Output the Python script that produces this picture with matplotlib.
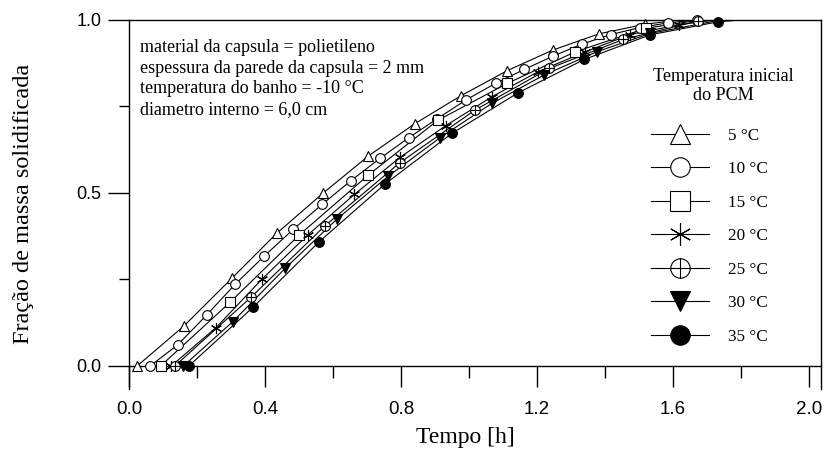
import matplotlib.pyplot as plt
from matplotlib.path import Path
from matplotlib.lines import Line2D
from matplotlib.ticker import MultipleLocator, FormatStrFormatter

# values (tempo [h], fracao solidificada)
labels = ['5 °C', '10 °C', '15 °C', '20 °C', '25 °C', '30 °C', '35 °C']

t_5 = [0.024, 0.162, 0.302, 0.434, 0.570, 0.704, 0.840, 0.976, 1.111, 1.246, 1.382, 1.518]
f_5 = [0.0, 0.116, 0.253, 0.383, 0.499, 0.607, 0.700, 0.781, 0.853, 0.913, 0.960, 0.988]

t_10 = [0.062, 0.143, 0.228, 0.312, 0.397, 0.483, 0.569, 0.653, 0.738, 0.823, 0.907,
        0.991, 1.078, 1.162, 1.248, 1.331, 1.417, 1.502, 1.586, 1.670]
f_10 = [0.0, 0.061, 0.147, 0.236, 0.317, 0.395, 0.468, 0.536, 0.600, 0.660, 0.715,
        0.769, 0.817, 0.857, 0.896, 0.930, 0.958, 0.978, 0.992, 1.0]

t_15 = [0.093, 0.297, 0.501, 0.704, 0.908, 1.113, 1.312, 1.520]
f_15 = [0.0, 0.184, 0.379, 0.552, 0.710, 0.817, 0.908, 0.976]

t_20 = [0.124, 0.256, 0.392, 0.526, 0.663, 0.797, 0.932, 1.067, 1.204, 1.341, 1.474, 1.616]
f_20 = [0.0, 0.111, 0.252, 0.379, 0.496, 0.603, 0.695, 0.778, 0.851, 0.908, 0.958, 0.986]

t_25 = [0.135, 0.358, 0.576, 0.797, 1.018, 1.236, 1.454, 1.672]
f_25 = [0.0, 0.198, 0.405, 0.588, 0.740, 0.860, 0.944, 0.997]

t_30 = [0.160, 0.305, 0.459, 0.611, 0.763, 0.915, 1.067, 1.221, 1.375, 1.532]
f_30 = [0.0, 0.128, 0.282, 0.424, 0.549, 0.660, 0.759, 0.841, 0.908, 0.961]

t_35 = [0.176, 0.365, 0.559, 0.753, 0.949, 1.145, 1.339, 1.532, 1.733]
f_35 = [0.0, 0.170, 0.359, 0.526, 0.672, 0.790, 0.886, 0.957, 0.995]

# where each curve reaches 1.0
t_end = [1.62, 1.70, 1.68, 1.72, 1.74, 1.74, 1.80]

series_t = [t_5, t_10, t_15, t_20, t_25, t_30, t_35]
series_f = [f_5, f_10, f_15, f_20, f_25, f_30, f_35]

circle_cross = Path.make_compound_path(
    Path.unit_circle(),
    Path([[-1, 0], [1, 0], [0, -1], [0, 1]],
         [Path.MOVETO, Path.LINETO, Path.MOVETO, Path.LINETO]))

markers = ['^', 'o', 's', (6, 2, 0), circle_cross, 'v', 'o']
faces = ['white', 'white', 'white', 'none', 'white', 'black', 'black']
sizes = [7.5, 7.0, 7.0, 8.0, 7.0, 7.5, 7.0]

serif = ['Liberation Serif', 'DejaVu Serif']

fig = plt.figure(figsize=(8.39, 4.53), dpi=100)
W, H = 839, 453
ax = fig.add_axes([129 / W, 1 - 389 / H, (821 - 129) / W, (389 - 20) / H])

for i in range(7):
    ax.plot(series_t[i] + [t_end[i]], series_f[i] + [1.0], color='black', lw=0.8, zorder=2)
    ax.plot(series_t[i], series_f[i], ls='none', marker=markers[i], ms=sizes[i],
            mfc=faces[i], mec='black', mew=0.8, zorder=3, clip_on=False)

ax.set_xlim(0, 2.035)
ax.set_ylim(-0.0665, 1.0)

ax.spines['bottom'].set_position(('data', 0))
for s in ax.spines.values():
    s.set_linewidth(1.0)

ax.xaxis.set_major_locator(MultipleLocator(0.4))
ax.xaxis.set_minor_locator(MultipleLocator(0.2))
ax.yaxis.set_major_locator(MultipleLocator(0.5))
ax.yaxis.set_minor_locator(MultipleLocator(0.25))
ax.xaxis.set_major_formatter(FormatStrFormatter('%.1f'))
ax.yaxis.set_major_formatter(FormatStrFormatter('%.1f'))

ax.tick_params(axis='x', which='major', direction='out', length=15, width=1, pad=10)
ax.tick_params(axis='x', which='minor', direction='out', length=8.6, width=1)
ax.tick_params(axis='y', which='major', direction='out', length=15, width=1, pad=5)
ax.tick_params(axis='y', which='minor', direction='out', length=7.2, width=1)
ax.tick_params(right=False, top=False)

for lab in ax.get_xticklabels():
    lab.set_family(['Liberation Sans Narrow', 'Liberation Sans', 'DejaVu Sans'])
    lab.set_fontsize(13.5)
for lab in ax.get_yticklabels():
    lab.set_family(['Liberation Sans', 'DejaVu Sans'])
    lab.set_fontsize(13)

ax.set_xlabel('Tempo [h]', family=serif, fontsize=17)
ax.xaxis.set_label_coords((465 - 129) / 692, (389 - 427) / 369)
ax.set_ylabel('Fração de massa solidificada', family=serif, fontsize=17.5)
ax.yaxis.set_label_coords((34 - 129) / 692, (389 - 204) / 369)

ax.text(140 / W, 1 - 39 / H,
        'material da capsula = polietileno\n'
        'espessura da parede da capsula = 2 mm\n'
        'temperatura do banho = -10 °C\n'
        'diametro interno = 6,0 cm',
        transform=fig.transFigure, family=serif, fontsize=13,
        va='top', ha='left', linespacing=1.28)

# legend title drawn as its own text, centred over the entries
fig.text(723 / W, 1 - 86 / H, 'Temperatura inicial\ndo PCM', family=serif, fontsize=13.1,
         ha='center', va='center', multialignment='center', linespacing=1.1)

handles = [Line2D([], [], color='black', lw=0.8, marker=markers[i], ms=sizes[i] * 2,
                  mfc=faces[i], mec='black', mew=0.8) for i in range(7)]
leg = ax.legend(handles, labels, loc='upper left',
                bbox_to_anchor=(651 / W, 1 - 128 / H), bbox_transform=fig.transFigure,
                frameon=False, prop={'family': serif, 'size': 12.3},
                handlelength=3.4, handletextpad=1.1, labelspacing=1.02,
                borderpad=0, borderaxespad=0)

fig.savefig('out.png', dpi=100)
